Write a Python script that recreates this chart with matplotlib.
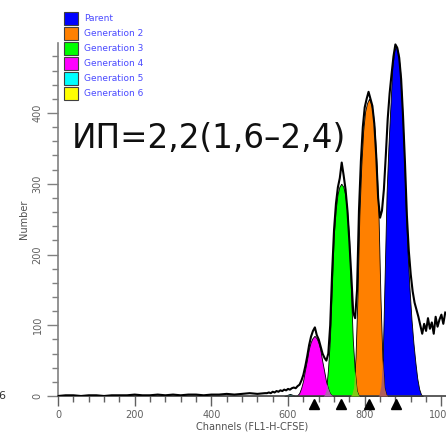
import numpy as np
import matplotlib
matplotlib.use("Agg")
import matplotlib.pyplot as plt
from matplotlib.patches import Rectangle

# generations (legend order)
gen_names = ["Parent", "Generation 2", "Generation 3", "Generation 4", "Generation 5", "Generation 6"]
gen_colors = ["#0000ff", "#ff8000", "#00ff00", "#ff00ff", "#00ffff", "#ffff00"]

# fitted peaks: heights read at 0,5,10,... channels away from the peak centre
peak_offsets = [0, 5, 10, 15, 20, 25, 30, 35, 40, 45, 50, 55, 60, 65, 70]
peak_centers = [882, 811, 739, 669, 605]
parent_left = [495, 488, 465, 410, 355, 287, 170, 55, 14, 1, 0, 0, 0, 0, 0]
parent_right = [495, 486, 462, 415, 350, 265, 200, 150, 108, 75, 48, 25, 10, 2, 0]
gen2_vals = [420, 414, 402, 375, 325, 255, 140, 55, 12, 2, 0, 0, 0, 0, 0]
gen3_vals = [300, 296, 285, 262, 225, 150, 78, 36, 8, 1, 0, 0, 0, 0, 0]
gen4_vals = [85, 82, 76, 66, 50, 36, 21, 11, 4, 1, 0, 0, 0, 0, 0]
gen5_vals = [3, 2, 1, 0, 0, 0, 0, 0, 0, 0, 0, 0, 0, 0, 0]

# overlap colours (where two fitted peaks cover each other)
mix_colors = ["#b0605c", "#80c814", "#b060b0"]

# raw histogram (Number per channel)
debris_ch = list(range(0, 541, 20))
debris_counts = [0, 1, 1, 0, 1, 1, 0, 1, 1, 1, 2, 1, 1, 2, 1, 2, 1, 2, 2, 1,
                 2, 2, 3, 2, 3, 4, 3, 4]
hist_ch = list(range(545, 1011, 5))
hist_counts = [4, 5, 4, 6, 5, 7, 6, 8, 7, 9, 8, 10,
               9, 11, 12, 11, 14, 16, 22, 30, 42, 56, 72, 84,
               92, 97, 86, 80, 70, 60, 54, 50, 60, 100, 175, 235,
               272, 295, 308, 330, 312, 292, 262, 218, 170, 118, 110, 150,
               262, 332, 380, 408, 420, 430, 420, 410, 385, 340, 280, 252,
               262, 292, 340, 392, 428, 455, 480, 497, 492, 478, 448, 395,
               330, 255, 205, 172, 148, 132, 122, 112, 100, 88, 102, 92,
               110, 95, 104, 88, 112, 98, 108, 115, 102, 118]

grid = np.arange(540, 1000, 0.5)


def profile(center, left, right):
    d = grid - center
    return np.where(d < 0, np.interp(-d, peak_offsets, left), np.interp(d, peak_offsets, right))


curves = [
    profile(peak_centers[0], parent_left, parent_right),
    profile(peak_centers[1], gen2_vals, gen2_vals),
    profile(peak_centers[2], gen3_vals, gen3_vals),
    profile(peak_centers[3], gen4_vals, gen4_vals),
    profile(peak_centers[4], gen5_vals, gen5_vals),
]

fig = plt.figure(figsize=(4.46, 4.38), dpi=100)
ax = fig.add_axes([58 / 446, 42 / 438, 388 / 446, 353 / 438])

for c, col in zip(curves, gen_colors):
    ax.fill_between(grid, 0, c, where=c > 0, color=col, edgecolor="black", lw=0.6, zorder=2)

# overlaps: parent/gen2, gen2/gen3, gen3/gen4
for i, col in enumerate(mix_colors):
    both = np.minimum(curves[i], curves[i + 1])
    ax.fill_between(grid, 0, both, where=both > 0.5, color=col, lw=0, zorder=3)

ch = debris_ch + hist_ch
cnt = debris_counts + hist_counts
ax.plot(ch, cnt, color="black", lw=1.5, zorder=4)

# peak position markers under the axis
ax.plot(peak_centers[:4], [-11] * 4, ls="none", marker="^", color="black",
        markersize=7, clip_on=False, zorder=5)

ax.set_xlim(0, 1012)
ax.set_ylim(0, 499)
ax.set_xticks(range(0, 1001, 200))
ax.set_xticks(range(0, 1001, 40), minor=True)
ax.set_yticks(range(0, 401, 100))
ax.set_yticks(range(0, 481, 20), minor=True)
for s in ["top", "right"]:
    ax.spines[s].set_visible(False)
ax.spines["left"].set_color("#808080")
ax.spines["bottom"].set_color("#404040")
ax.spines["left"].set_linewidth(1.2)
ax.spines["bottom"].set_linewidth(1.2)
ax.tick_params(axis="y", which="major", length=8, width=1, color="#808080",
               labelsize=7, labelcolor="#606060", labelrotation=90, pad=3)
ax.tick_params(axis="y", which="minor", length=4, width=1, color="#808080")
ax.tick_params(axis="x", which="major", length=7, width=1, color="#606060",
               labelsize=7, labelcolor="#606060", pad=3)
ax.tick_params(axis="x", which="minor", length=4, width=1, color="#606060")
for lab in ax.get_yticklabels():
    lab.set_va("center")
ax.set_xlabel("Channels (FL1-H-CFSE)", fontsize=7, color="#505050", labelpad=1)
ax.set_ylabel("Number", fontsize=7, color="#505050", labelpad=3)

# overlay in pixel coordinates for the legend and annotation
ov = fig.add_axes([0, 0, 1, 1])
ov.set_xlim(0, 446)
ov.set_ylim(438, 0)
ov.axis("off")
ov.patch.set_visible(False)

for i, (name, col) in enumerate(zip(gen_names, gen_colors)):
    yc = 18.5 + 15 * i
    ov.add_patch(Rectangle((64, yc - 6.5), 14, 13, facecolor=col, edgecolor="#404040", lw=0.8))
    ov.text(84, yc, name, fontsize=6.5, color="#4a4aff", va="center", ha="left")

ov.text(72, 148, "ИП=2,2(1,6–2,4)", fontsize=23.5, color="#101010", ha="left", va="baseline")
ov.text(-2, 396, "6", fontsize=8, color="#303030", ha="left", va="center")

fig.savefig("out.png", dpi=100)
